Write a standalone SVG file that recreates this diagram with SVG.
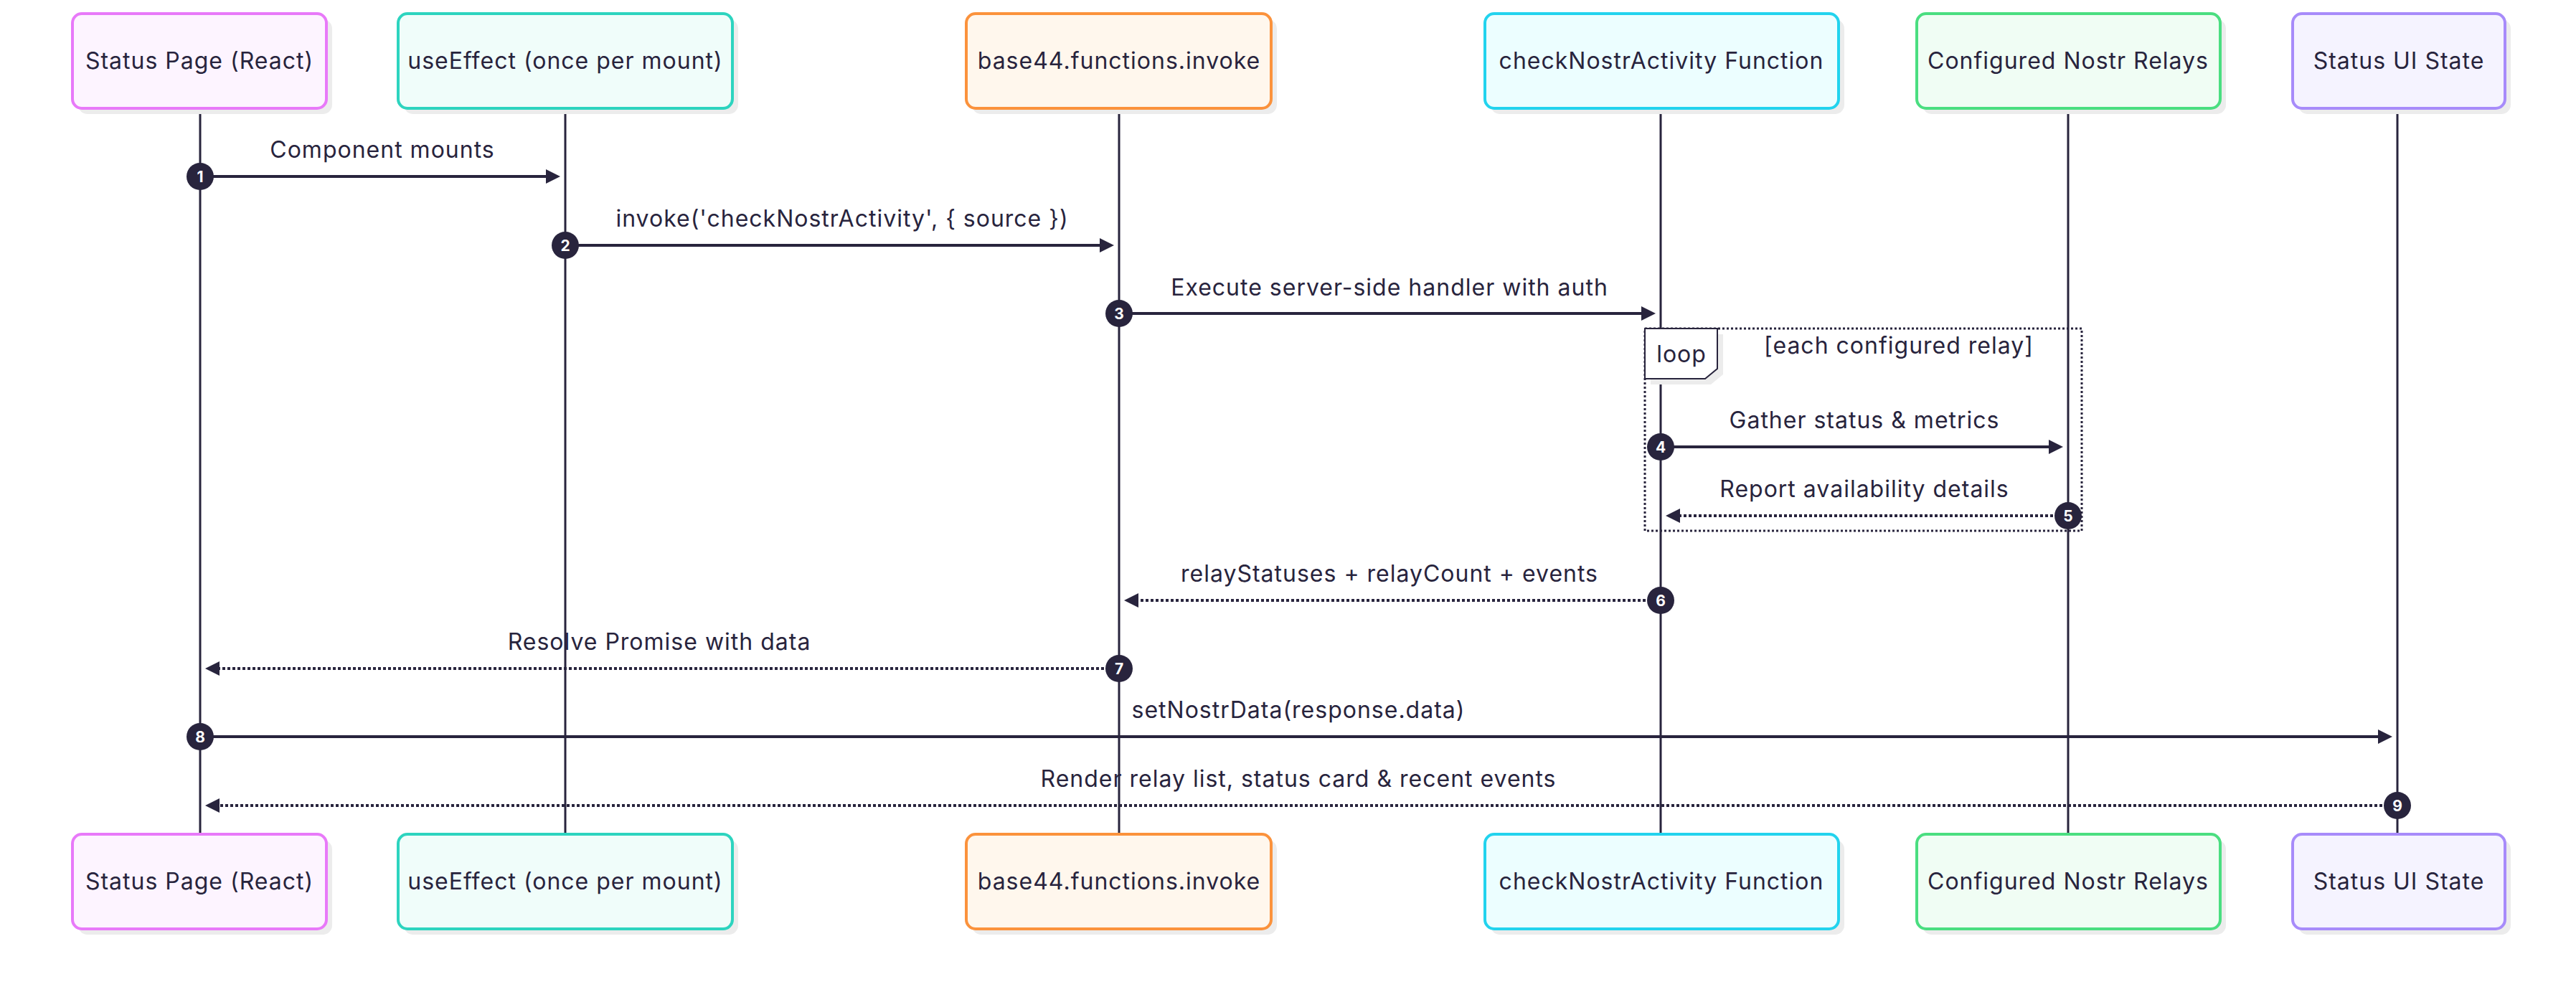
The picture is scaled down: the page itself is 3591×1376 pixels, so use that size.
<svg xmlns="http://www.w3.org/2000/svg" width="3591" height="1376" viewBox="0 0 3591 1376">
<style>
.t{font-family:Inter,"Liberation Sans",sans-serif;font-size:32px;letter-spacing:1px;fill:#28243d;text-anchor:middle}
.n{font-family:Inter,"Liberation Sans",sans-serif;font-size:21px;font-weight:700;fill:#ffffff;text-anchor:middle}
.life{stroke:#28243d;stroke-width:3;fill:none}
.msg{stroke:#28243d;stroke-width:4;fill:none}
.dot{stroke-dasharray:4 3}
.shadow{fill:#ececec}
.num{fill:#28243d}
</style>
<defs>
<marker id="ah" markerUnits="userSpaceOnUse" markerWidth="20" markerHeight="20" refX="10" refY="10" orient="auto">
<path d="M0,0 L20,10 L0,20 z" fill="#28243d"/>
</marker>
</defs>
<rect width="3591" height="1376" fill="#ffffff"/>

<g id="lifelines">
<line class="life" x1="279" y1="151" x2="279" y2="1163"/>
<line class="life" x1="788" y1="151" x2="788" y2="1163"/>
<line class="life" x1="1560" y1="151" x2="1560" y2="1163"/>
<line class="life" x1="2315" y1="151" x2="2315" y2="1163"/>
<line class="life" x1="2883" y1="151" x2="2883" y2="1163"/>
<line class="life" x1="3342" y1="151" x2="3342" y2="1163"/>
</g>

<g id="node-statuspage">
<rect class="shadow" x="109" y="27" width="354" height="132" rx="13"/>
<rect x="101" y="19" width="354" height="132" rx="13" fill="#fdf4ff" stroke="#e879f9" stroke-width="4"/>
<text class="t" x="278" y="96">Status Page (React)</text>
<rect class="shadow" x="109" y="1171" width="354" height="132" rx="13"/>
<rect x="101" y="1163" width="354" height="132" rx="13" fill="#fdf4ff" stroke="#e879f9" stroke-width="4"/>
<text class="t" x="278" y="1240">Status Page (React)</text>
</g>
<g id="node-useeffect">
<rect class="shadow" x="563" y="27" width="466" height="132" rx="13"/>
<rect x="555" y="19" width="466" height="132" rx="13" fill="#f0fdfa" stroke="#2dd4bf" stroke-width="4"/>
<text class="t" x="788" y="96">useEffect (once per mount)</text>
<rect class="shadow" x="563" y="1171" width="466" height="132" rx="13"/>
<rect x="555" y="1163" width="466" height="132" rx="13" fill="#f0fdfa" stroke="#2dd4bf" stroke-width="4"/>
<text class="t" x="788" y="1240">useEffect (once per mount)</text>
</g>
<g id="node-invoke">
<rect class="shadow" x="1355" y="27" width="425" height="132" rx="13"/>
<rect x="1347" y="19" width="425" height="132" rx="13" fill="#fff7ed" stroke="#fb923c" stroke-width="4"/>
<text class="t" x="1560" y="96">base44.functions.invoke</text>
<rect class="shadow" x="1355" y="1171" width="425" height="132" rx="13"/>
<rect x="1347" y="1163" width="425" height="132" rx="13" fill="#fff7ed" stroke="#fb923c" stroke-width="4"/>
<text class="t" x="1560" y="1240">base44.functions.invoke</text>
</g>
<g id="node-checknostr">
<rect class="shadow" x="2078" y="27" width="493" height="132" rx="13"/>
<rect x="2070" y="19" width="493" height="132" rx="13" fill="#ecfeff" stroke="#22d3ee" stroke-width="4"/>
<text class="t" x="2316" y="96">checkNostrActivity Function</text>
<rect class="shadow" x="2078" y="1171" width="493" height="132" rx="13"/>
<rect x="2070" y="1163" width="493" height="132" rx="13" fill="#ecfeff" stroke="#22d3ee" stroke-width="4"/>
<text class="t" x="2316" y="1240">checkNostrActivity Function</text>
</g>
<g id="node-relays">
<rect class="shadow" x="2680" y="27" width="423" height="132" rx="13"/>
<rect x="2672" y="19" width="423" height="132" rx="13" fill="#f0fdf4" stroke="#4ade80" stroke-width="4"/>
<text class="t" x="2883" y="96">Configured Nostr Relays</text>
<rect class="shadow" x="2680" y="1171" width="423" height="132" rx="13"/>
<rect x="2672" y="1163" width="423" height="132" rx="13" fill="#f0fdf4" stroke="#4ade80" stroke-width="4"/>
<text class="t" x="2883" y="1240">Configured Nostr Relays</text>
</g>
<g id="node-uistate">
<rect class="shadow" x="3204" y="27" width="296" height="132" rx="13"/>
<rect x="3196" y="19" width="296" height="132" rx="13" fill="#f5f3ff" stroke="#a78bfa" stroke-width="4"/>
<text class="t" x="3344" y="96">Status UI State</text>
<rect class="shadow" x="3204" y="1171" width="296" height="132" rx="13"/>
<rect x="3196" y="1163" width="296" height="132" rx="13" fill="#f5f3ff" stroke="#a78bfa" stroke-width="4"/>
<text class="t" x="3344" y="1240">Status UI State</text>
</g>

<g id="loop">
<rect x="2293" y="458" width="609" height="282" fill="none" stroke="#28243d" stroke-width="3" stroke-dasharray="3 3"/>
<polygon points="2301,466 2402,466 2402,522 2385,536 2301,536" fill="#ececec"/>
<polygon points="2293,458 2394,458 2394,514 2377,528 2293,528" fill="#ffffff" stroke="#28243d" stroke-width="2"/>
<text class="t" x="2344" y="505">loop</text>
<text class="t" x="2647" y="493">[each configured relay]</text>
</g>

<g id="connectors">
<line class="msg" x1="279" y1="246" x2="771" y2="246" marker-end="url(#ah)"/>
<text class="t" x="533" y="220">Component mounts</text>
<line class="msg" x1="788" y1="342" x2="1543" y2="342" marker-end="url(#ah)"/>
<text class="t" x="1174" y="316">invoke('checkNostrActivity', { source })</text>
<line class="msg" x1="1560" y1="437" x2="2298" y2="437" marker-end="url(#ah)"/>
<text class="t" x="1937" y="412">Execute server-side handler with auth</text>
<line class="msg" x1="2315" y1="623" x2="2866" y2="623" marker-end="url(#ah)"/>
<text class="t" x="2599" y="597">Gather status &amp; metrics</text>
<line class="msg dot" x1="2883" y1="719" x2="2332" y2="719" marker-end="url(#ah)"/>
<text class="t" x="2599" y="693">Report availability details</text>
<line class="msg dot" x1="2315" y1="837" x2="1577" y2="837" marker-end="url(#ah)"/>
<text class="t" x="1937" y="811">relayStatuses + relayCount + events</text>
<line class="msg dot" x1="1560" y1="932" x2="296" y2="932" marker-end="url(#ah)"/>
<text class="t" x="919" y="906">Resolve Promise with data</text>
<line class="msg" x1="279" y1="1027" x2="3325" y2="1027" marker-end="url(#ah)"/>
<text class="t" x="1810" y="1001">setNostrData(response.data)</text>
<line class="msg dot" x1="3342" y1="1123" x2="296" y2="1123" marker-end="url(#ah)"/>
<text class="t" x="1810" y="1097">Render relay list, status card &amp; recent events</text>
</g>

<g id="numbers">
<circle class="num" cx="279" cy="246" r="19"/><text class="n" x="279" y="254">1</text>
<circle class="num" cx="788" cy="342" r="19"/><text class="n" x="788" y="350">2</text>
<circle class="num" cx="1560" cy="437" r="19"/><text class="n" x="1560" y="445">3</text>
<circle class="num" cx="2315" cy="623" r="19"/><text class="n" x="2315" y="631">4</text>
<circle class="num" cx="2883" cy="719" r="19"/><text class="n" x="2883" y="727">5</text>
<circle class="num" cx="2315" cy="837" r="19"/><text class="n" x="2315" y="845">6</text>
<circle class="num" cx="1560" cy="932" r="19"/><text class="n" x="1560" y="940">7</text>
<circle class="num" cx="279" cy="1027" r="19"/><text class="n" x="279" y="1035">8</text>
<circle class="num" cx="3342" cy="1123" r="19"/><text class="n" x="3342" y="1131">9</text>
</g>
</svg>
